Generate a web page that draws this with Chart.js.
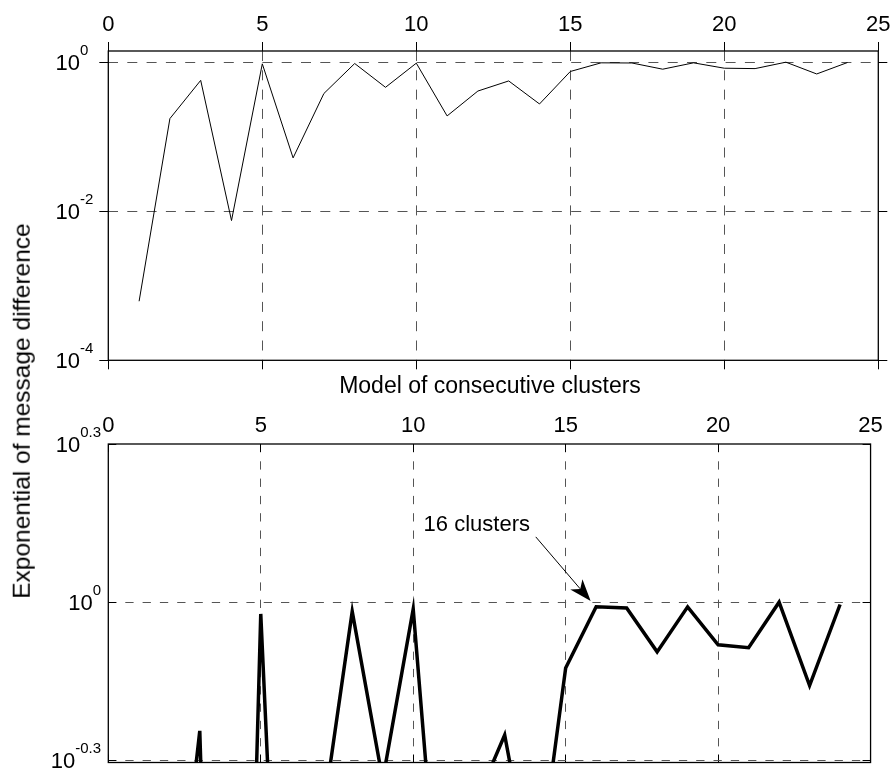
<!DOCTYPE html>
<html>
<head>
<meta charset="utf-8">
<title>Exponential of message difference</title>
<script src="https://cdn.jsdelivr.net/npm/chart.js@4.4.1/dist/chart.umd.min.js"></script>
<style>
  body { margin: 0; background: #fff; }
  #figure { position: relative; width: 896px; height: 772px; font-family: "Liberation Sans", Arial, sans-serif; }
  #figure canvas { position: absolute; left: 0; }
  #top-chart { top: 0; }
  #bottom-chart { top: 400px; }
  .axis-title { position: absolute; white-space: nowrap; line-height: 1; color: #000; transform: translate(-50%, -50%); }
  #x-title { left: 490px; top: 385px; font-size: 23px; }
  #y-title { left: 22px; top: 411px; font-size: 24.5px; transform: translate(-50%, -50%) rotate(-90deg); }
</style>
</head>
<body>
<div id="figure">
  <canvas id="top-chart" width="896" height="400"></canvas>
  <canvas id="bottom-chart" width="896" height="372"></canvas>
  <div id="x-title" class="axis-title">Model of consecutive clusters</div>
  <div id="y-title" class="axis-title">Exponential of message difference</div>
</div>
<script>
// model index (number of consecutive clusters)
const clusterModels = [1, 2, 3, 4, 5, 6, 7, 8, 9, 10, 11, 12, 13, 14, 15, 16, 17, 18, 19, 20, 21, 22, 23, 24];
// exponential of message difference
const messageDiff = [6.2e-4, 0.175, 0.57, 0.0075, 0.95, 0.052, 0.38, 0.96, 0.46, 0.97, 0.19, 0.41,
                     0.56, 0.275, 0.75, 0.98, 0.975, 0.805, 0.98, 0.83, 0.82, 1.0, 0.695, 0.99];

const xTickValues = [0, 5, 10, 15, 20, 25];
const topYTicks = [1e-4, 1e-2, 1];
const topYExponents = ['-4', '-2', '0'];
const bottomYTicks = [Math.pow(10, -0.3), 1, Math.pow(10, 0.3)];
const bottomYExponents = ['-0.3', '0', '0.3'];
const noteText = '16 clusters';

const FONT = '"Liberation Sans", Arial, sans-serif';
const GRID = '#555';

function seriesPoints() {
    return clusterModels.map((x, i) => ({ x: x, y: messageDiff[i] }));
}

// grid lines on the frame edges are hidden, the frame is drawn solid
function gridColor(edges) {
    return ctx => {
        const v = ctx.tick ? ctx.tick.value : null;
        return edges.some(e => Math.abs(e - v) < 1e-9) ? 'rgba(0,0,0,0)' : GRID;
    };
}

function fixTicks(values) {
    return scale => { scale.ticks = values.map(v => ({ value: v })); };
}

const framePlugin = {
    id: 'frame',
    afterDraw(chart) {
        const a = chart.chartArea, ctx = chart.ctx;
        ctx.save();
        ctx.strokeStyle = '#000';
        ctx.lineWidth = 1.3;
        ctx.strokeRect(a.left, a.top, a.right - a.left, a.bottom - a.top);
        ctx.restore();
    }
};

// "10" with a raised exponent, drawn next to each y tick
function powerLabels(values, exps, place) {
    return {
        id: 'powerLabels',
        afterDraw(chart) {
            const ctx = chart.ctx, s = chart.scales.y;
            ctx.save();
            ctx.fillStyle = '#000';
            ctx.textAlign = 'left';
            ctx.textBaseline = 'alphabetic';
            values.forEach((v, i) => {
                const py = s.getPixelForValue(v);
                ctx.font = '22px ' + FONT;
                const baseW = ctx.measureText('10').width;
                ctx.font = '15px ' + FONT;
                const expW = ctx.measureText(exps[i]).width;
                const bx = place.baseRight !== undefined ? place.baseRight - baseW : place.right - expW - baseW;
                ctx.font = '22px ' + FONT;
                ctx.fillText('10', bx, py + 7.7);
                ctx.font = '15px ' + FONT;
                ctx.fillText(exps[i], bx + baseW, py - 7.5);
            });
            ctx.restore();
        }
    };
}

const notePlugin = {
    id: 'note',
    afterDraw(chart) {
        const xs = chart.scales.x, ys = chart.scales.y, ctx = chart.ctx;
        ctx.save();
        ctx.fillStyle = '#000';
        ctx.strokeStyle = '#000';
        ctx.font = '22px ' + FONT;
        ctx.textAlign = 'left';
        ctx.textBaseline = 'alphabetic';
        ctx.fillText(noteText, xs.getPixelForValue(10.34), ys.getPixelForValue(1.366));

        const x0 = xs.getPixelForValue(14.02), y0 = ys.getPixelForValue(1.33);
        const x1 = xs.getPixelForValue(15.82), y1 = ys.getPixelForValue(1.005);
        const ang = Math.atan2(y1 - y0, x1 - x0);
        const ux = Math.cos(ang), uy = Math.sin(ang);
        const len = 22, half = 8, notch = 6;
        const bx = x1 - len * ux, by = y1 - len * uy;
        const nx = x1 - (len - notch) * ux, ny = y1 - (len - notch) * uy;
        ctx.lineWidth = 1;
        ctx.beginPath();
        ctx.moveTo(x0, y0);
        ctx.lineTo(nx, ny);
        ctx.stroke();
        ctx.beginPath();
        ctx.moveTo(x1, y1);
        ctx.lineTo(bx - half * uy, by + half * ux);
        ctx.lineTo(nx, ny);
        ctx.lineTo(bx + half * uy, by - half * ux);
        ctx.closePath();
        ctx.fill();
        ctx.restore();
    }
};

function panelOptions(p) {
    return {
        responsive: false,
        animation: false,
        events: [],
        layout: { padding: 0 },
        plugins: { legend: { display: false }, tooltip: { enabled: false } },
        scales: {
            x: {
                type: 'linear', position: 'top', min: 0, max: 25,
                afterBuildTicks: fixTicks(xTickValues),
                ticks: { color: '#000', font: { family: FONT, size: 22 }, padding: p.xPad, maxRotation: 0 },
                grid: { color: gridColor([0, 25]), lineWidth: 1, tickLength: p.tick, tickColor: '#000', tickWidth: 1, tickBorderDash: [] },
                border: { display: false, dash: p.dash },
                afterFit: s => { s.height = p.top; }
            },
            xb: {
                type: 'linear', position: 'bottom', min: 0, max: 25,
                afterBuildTicks: fixTicks(xTickValues),
                ticks: { display: false },
                grid: { drawOnChartArea: false, tickLength: p.tick, tickColor: '#000', tickWidth: 1, tickBorderDash: [] },
                border: { display: false },
                afterFit: s => { s.height = p.bottom; }
            },
            y: {
                type: 'logarithmic', position: 'left', min: p.yMin, max: p.yMax,
                afterBuildTicks: fixTicks(p.yTicks),
                ticks: { display: false },
                grid: { color: gridColor(p.yEdges), lineWidth: 1, tickLength: p.tick, tickColor: '#000', tickWidth: 1, tickBorderDash: [] },
                border: { display: false, dash: p.dash },
                afterFit: s => { s.width = 108.3; }
            },
            yr: {
                type: 'logarithmic', position: 'right', min: p.yMin, max: p.yMax,
                afterBuildTicks: fixTicks(p.yTicks),
                ticks: { display: false },
                grid: { drawOnChartArea: false, tickLength: p.tick, tickColor: '#000', tickWidth: 1, tickBorderDash: [] },
                border: { display: false },
                afterFit: s => { s.width = 17.7; }
            }
        }
    };
}

window.onload = function () {
    new Chart(document.getElementById('top-chart'), {
        type: 'line',
        data: {
            datasets: [{
                data: seriesPoints(),
                borderColor: '#000', borderWidth: 1, pointRadius: 0,
                fill: false, tension: 0, clip: 0, xAxisID: 'x', yAxisID: 'y'
            }]
        },
        options: panelOptions({
            top: 51, bottom: 39.7, tick: 9, xPad: 3.5, dash: [10, 9.3],
            yMin: 1e-4, yMax: Math.pow(10, 0.15), yTicks: topYTicks, yEdges: [1e-4]
        }),
        plugins: [framePlugin, powerLabels(topYTicks, topYExponents, { baseRight: 80 })]
    });

    new Chart(document.getElementById('bottom-chart'), {
        type: 'line',
        data: {
            datasets: [{
                data: seriesPoints(),
                borderColor: '#000', borderWidth: 3.5, pointRadius: 0,
                fill: false, tension: 0, clip: 0, xAxisID: 'x', yAxisID: 'y'
            }]
        },
        options: panelOptions({
            top: 44, bottom: 9.5, tick: -8, xPad: 13.2, dash: [8.3, 9],
            yMin: Math.pow(10, -0.304), yMax: Math.pow(10, 0.3), yTicks: bottomYTicks, yEdges: [Math.pow(10, 0.3)]
        }),
        plugins: [framePlugin, powerLabels(bottomYTicks, bottomYExponents, { right: 101 }), notePlugin]
    });
};
</script>
</body>
</html>
